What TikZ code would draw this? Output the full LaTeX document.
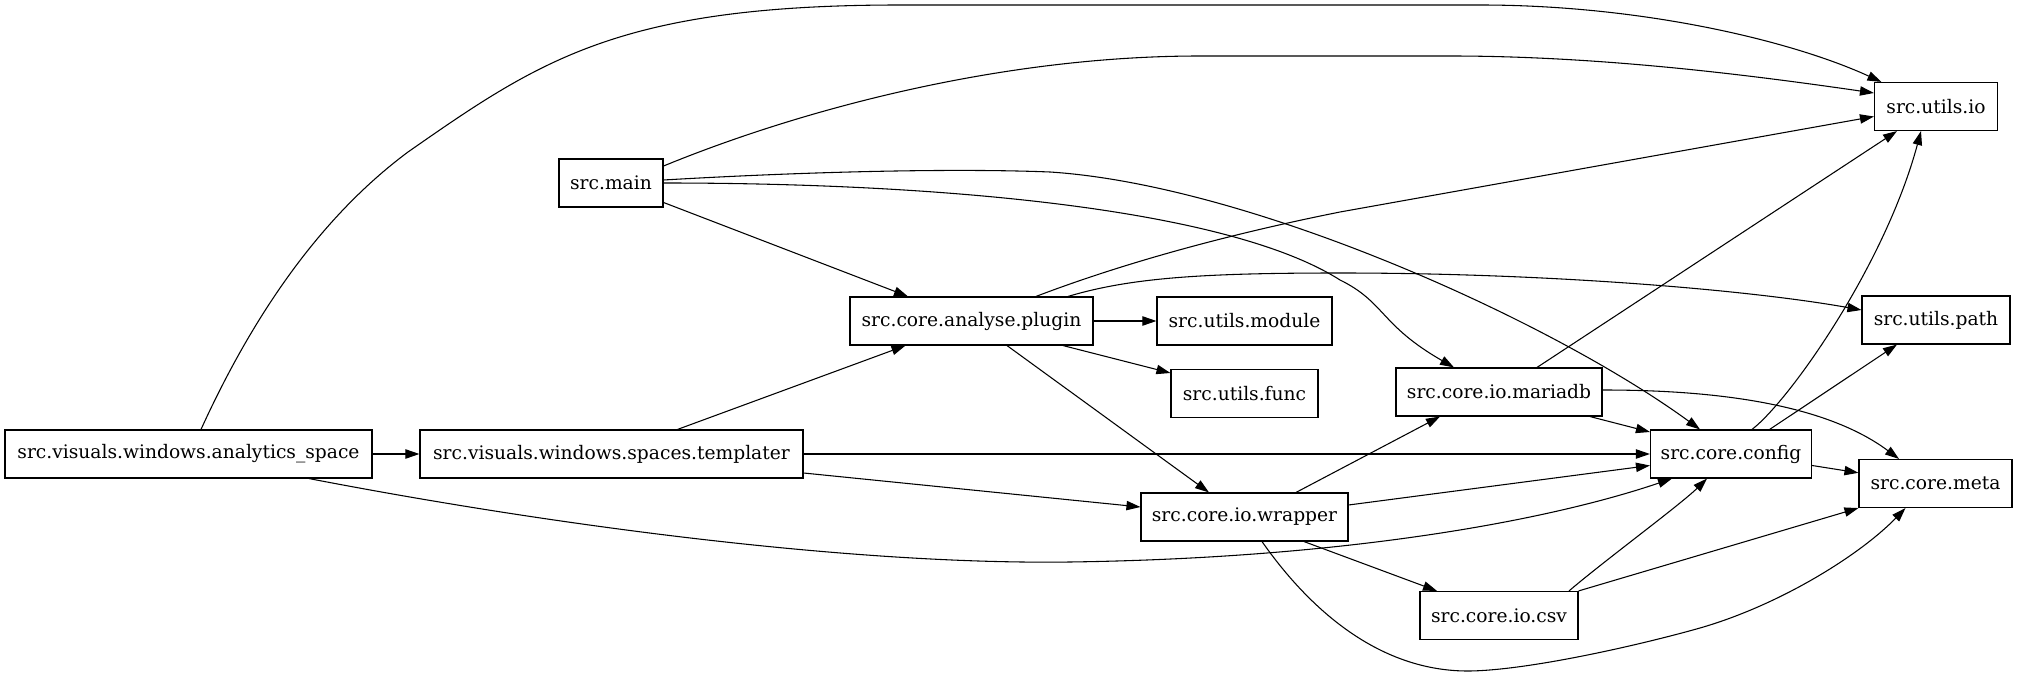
\documentclass[tikz,border=0pt]{standalone}
\usepackage{fontspec}
\setmainfont{DejaVu Serif}
\usetikzlibrary{arrows.meta,calc}
\begin{document}
\begin{tikzpicture}[x=0.75pt,y=-0.75pt,
  box/.style={draw,line width=0.85pt,rectangle,inner sep=0pt,minimum height=36pt,minimum width=#1*0.75pt,font=\fontsize{14pt}{16pt}\selectfont},
  edge/.style={line width=0.8pt,-{Triangle[length=10.5pt,width=7pt]}}]
\useasboundingbox (0,0) rectangle (2017,677);
% nodes
\node[box=123] (utilsio)   at (1936,106.5) {src.utils.io};
\node[box=104] (main)      at (611,183)    {src.main};
\node[box=243] (plugin)    at (971.5,321)  {src.core.analyse.plugin};
\node[box=175] (module)    at (1244.5,321) {src.utils.module};
\node[box=148] (upath)     at (1936,320)   {src.utils.path};
\node[box=147] (func)      at (1244.5,393.5) {src.utils.func};
\node[box=206] (mariadb)   at (1499,392)   {src.core.io.mariadb};
\node[box=367] (analytics) at (188.5,454)  {src.visuals.windows.analytics\_space};
\node[box=383] (templater) at (611.5,454)  {src.visuals.windows.spaces.templater};
\node[box=161] (config)    at (1731,454)   {src.core.config};
\node[box=153] (meta)      at (1935.5,483.5) {src.core.meta};
\node[box=207] (wrapper)   at (1244.5,517) {src.core.io.wrapper};
\node[box=158] (csv)       at (1499,615.5) {src.core.io.csv};
% edges
\draw[edge] (analytics) -- (templater);
\draw[edge] ($(analytics.north)+(12.5,0)$) .. controls (260,300) and (330,210) .. (408,152) .. controls (540,60) and (620,5) .. (900,5) -- (1480,5) .. controls (1640,5) and (1790,40) .. ($(utilsio.north west)+(7.5,0)$);
\draw[edge] ($(analytics.south)+(120.5,0)$) .. controls (550,525) and (850,565) .. (1070,562) .. controls (1350,558) and (1550,520) .. ($(config.south)+(-59,0)$);
\draw[edge] ($(main.east)+(0,-17)$) .. controls (800,110) and (1000,56) .. (1200,56) -- (1450,56) .. controls (1600,56) and (1750,75) .. ($(utilsio.west)+(0,-13.5)$);
\draw[edge] ($(main.east)+(0,19.5)$) -- ($(plugin.north)+(-63.5,0)$);
\draw[edge] ($(main.east)+(0,-3)$) .. controls (800,172) and (950,168) .. (1050,172) .. controls (1250,185) and (1550,320) .. ($(config.north)+(-31,0)$);
\draw[edge] (main.east) .. controls (950,183) and (1230,210) .. (1340,280) .. controls (1385,302) and (1380,325) .. ($(mariadb.north)+(-45,0)$);
\draw[edge] ($(templater.north)+(66,0)$) -- ($(plugin.south)+(-66,0)$);
\draw[edge] (templater) -- (config);
\draw[edge] ($(templater.east)+(0,19)$) -- ($(wrapper.west)+(0,-10)$);
\draw[edge] (plugin) -- (module);
\draw[edge] ($(plugin.south)+(91.5,0)$) -- ($(func.west)+(0,-20.5)$);
\draw[edge] ($(plugin.south)+(35.5,0)$) -- ($(wrapper.north)+(-35.5,0)$);
\draw[edge] ($(plugin.north)+(64.5,0)$) .. controls (1100,272) and (1200,240) .. (1340,212) -- ($(utilsio.west)+(0,10)$);
\draw[edge] ($(plugin.north)+(96.5,0)$) .. controls (1130,278) and (1200,273) .. (1340,273) .. controls (1550,273) and (1750,290) .. ($(upath.west)+(0,-10)$);
\draw[edge] ($(wrapper.north)+(51.5,0)$) -- ($(mariadb.south)+(-59,0)$);
\draw[edge] ($(wrapper.east)+(0,-12)$) -- ($(config.west)+(0,11.5)$);
\draw[edge] ($(wrapper.south)+(59.5,0)$) -- ($(csv.north)+(-62,0)$);
\draw[edge] ($(wrapper.south)+(17.5,0)$) .. controls (1310,610) and (1380,672) .. (1470,671) .. controls (1530,670) and (1640,645) .. (1700,628) .. controls (1780,605) and (1860,555) .. ($(meta.south)+(-30,0)$);
\draw[edge] ($(mariadb.north)+(38,0)$) -- ($(utilsio.south)+(-39,0)$);
\draw[edge] ($(mariadb.south)+(91,0)$) -- ($(config.west)+(0,-22)$);
\draw[edge] ($(mariadb.east)+(0,-2)$) .. controls (1700,390) and (1820,400) .. ($(meta.north)+(-36.5,0)$);
\draw[edge] ($(config.north)+(21,0)$) .. controls (1790,400) and (1885,265) .. ($(utilsio.south)+(-15,0)$);
\draw[edge] ($(config.north)+(38.6,0)$) -- ($(upath.south)+(-39,0)$);
\draw[edge] ($(config.east)+(0,11.5)$) -- ($(meta.west)+(0,-10.7)$);
\draw[edge] ($(csv.north)+(70,0)$) .. controls (1604,561) and (1680,505) .. ($(config.south)+(-24,0)$);
\draw[edge] (csv.north east) -- (meta.south west);
\end{tikzpicture}
\end{document}
